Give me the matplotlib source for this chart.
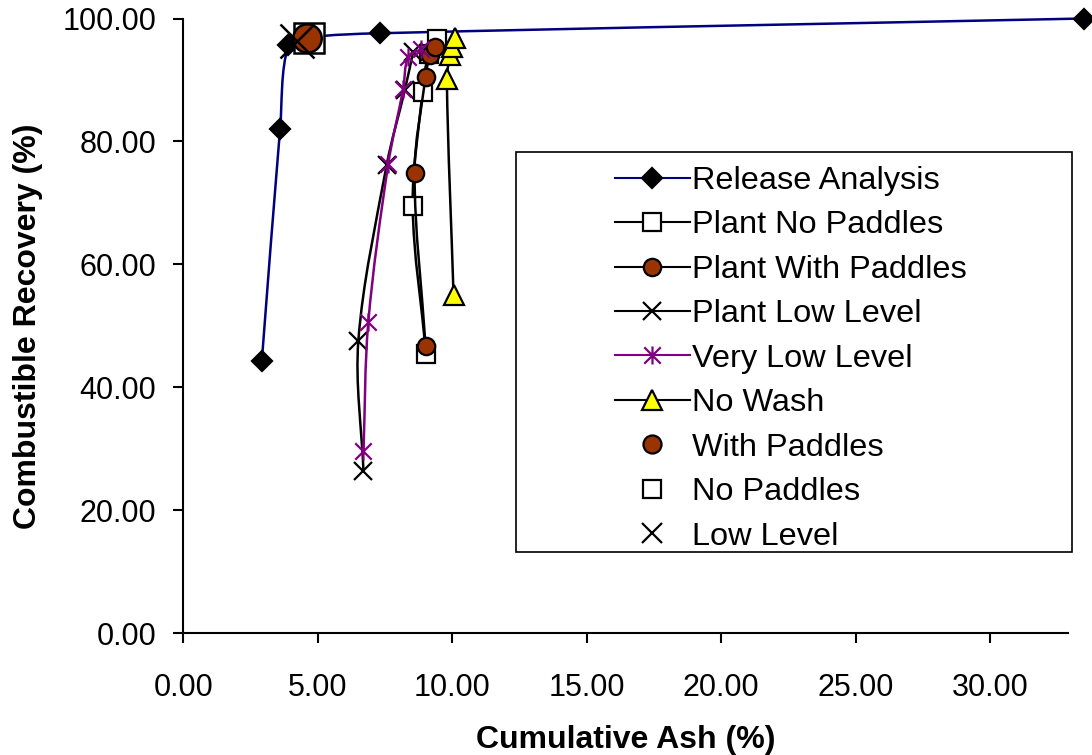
import numpy as np
import matplotlib
matplotlib.use('Agg')
import matplotlib.pyplot as plt
from matplotlib.path import Path
from matplotlib.patches import PathPatch, Rectangle
from matplotlib.lines import Line2D
from matplotlib.ticker import FormatStrFormatter

plt.rcParams['font.family'] = ['Liberation Sans', 'DejaVu Sans']

# data (cumulative ash %, combustible recovery %)
release_x = [2.92, 3.60, 3.91, 4.62, 7.31, 33.5]
release_y = [44.3, 82.1, 95.7, 96.9, 97.6, 100.0]

no_pad_x = [9.03, 8.53, 8.90, 9.12, 9.45]
no_pad_y = [45.4, 69.5, 88.1, 94.3, 96.6]

with_pad_x = [9.01, 8.60, 9.01, 9.17, 9.36]
with_pad_y = [46.7, 74.8, 90.5, 94.1, 95.4]

low_x = [6.70, 6.51, 7.56, 8.24, 8.55]
low_y = [26.4, 47.6, 76.1, 88.4, 94.6]

very_low_x = [6.70, 6.88, 7.62, 8.18, 8.37, 8.85]
very_low_y = [29.6, 50.6, 76.3, 88.6, 93.8, 95.0]

no_wash_x = [10.05, 9.80, 9.92, 10.01, 10.10]
no_wash_y = [55.0, 90.1, 94.1, 95.4, 96.8]

# single release points
single_labels = ['With Paddles', 'No Paddles', 'Low Level']
single_x = [4.61, 4.68, 4.24]
single_y = [96.8, 96.9, 96.4]

fig = plt.figure(figsize=(10.92, 7.55), dpi=100)
ax = fig.add_axes([183.3 / 1092, 1 - 633.3 / 755, (1068 - 183.3) / 1092, (633.3 - 18.5) / 755])
ax.set_xlim(0, 32.9)
ax.set_ylim(0, 100)

# asterisk marker like excel's star
star = Path([(-0.5, -0.5), (0.5, 0.5), (-0.5, 0.5), (0.5, -0.5), (0, -0.55), (0, 0.55)],
            [Path.MOVETO, Path.LINETO, Path.MOVETO, Path.LINETO, Path.MOVETO, Path.LINETO])


def smooth_path(xs, ys):
    # smoothed line through the points, bezier handles along neighbour direction
    pts = ax.transData.transform(np.column_stack([xs, ys]))
    n = len(pts)
    verts = [pts[0]]
    codes = [Path.MOVETO]
    for i in range(n - 1):
        p1, p2 = pts[i], pts[i + 1]
        a = p2 - pts[max(i - 1, 0)]
        b = pts[min(i + 2, n - 1)] - p1
        L = np.hypot(*(p2 - p1)) / 3
        verts += [p1 + a / np.hypot(*a) * L, p2 - b / np.hypot(*b) * L, p2]
        codes += [Path.CURVE4] * 3
    return Path(ax.transData.inverted().transform(verts), codes)


series = [
    ('Release Analysis', release_x, release_y, '#000080', 'D', 10.5, 'black', 'black'),
    ('Plant No Paddles', no_pad_x, no_pad_y, 'black', 's', 12.5, 'white', 'black'),
    ('Plant With Paddles', with_pad_x, with_pad_y, 'black', 'o', 12.5, '#993300', 'black'),
    ('Plant Low Level', low_x, low_y, 'black', 'x', 13, 'none', 'black'),
    ('Very Low Level', very_low_x, very_low_y, '#800080', star, 13, 'none', '#800080'),
    ('No Wash', no_wash_x, no_wash_y, 'black', '^', 14, '#FFFF00', 'black'),
]

handles = []
z = 3
for name, xs, ys, lc, mk, ms, fc, ec in series:
    ax.add_patch(PathPatch(smooth_path(xs, ys), fill=False, edgecolor=lc, lw=1.8,
                           zorder=z, clip_on=False))
    ax.plot(xs, ys, ls='none', marker=mk, ms=ms, mfc=fc, mec=ec, mew=1.6,
            zorder=z + 0.5, clip_on=False)
    handles.append(Line2D([], [], color=lc, lw=1.5, marker=mk, ms=ms, mfc=fc, mec=ec, mew=1.6))
    z += 1

# big single markers
ax.plot(single_x[1], single_y[1], ls='none', marker='s', ms=22, mfc='white', mec='black', mew=1.8, zorder=z)
ax.plot(single_x[0], single_y[0], ls='none', marker='o', ms=20.5, mfc='#993300', mec='black', mew=1.8, zorder=z + 1)
ax.plot(single_x[2], single_y[2], ls='none', marker='x', ms=25, mec='black', mew=1.8, zorder=z + 2)
handles.append(Line2D([], [], ls='none', marker='o', ms=13, mfc='#993300', mec='black', mew=1.6))
handles.append(Line2D([], [], ls='none', marker='s', ms=13, mfc='white', mec='black', mew=1.6))
handles.append(Line2D([], [], ls='none', marker='x', ms=14, mec='black', mew=1.6))
labels = [s[0] for s in series] + single_labels

ax.spines['top'].set_visible(False)
ax.spines['right'].set_visible(False)
ax.spines['left'].set_linewidth(1.5)
ax.spines['bottom'].set_linewidth(1.5)
ax.set_xticks(np.arange(0, 31, 5))
ax.set_yticks(np.arange(0, 101, 20))
ax.xaxis.set_major_formatter(FormatStrFormatter('%.2f'))
ax.yaxis.set_major_formatter(FormatStrFormatter('%.2f'))
ax.tick_params(axis='both', direction='out', length=7.5, width=1.5, labelsize=22)
ax.tick_params(axis='x', pad=21)
ax.tick_params(axis='y', pad=12)
ax.set_xlabel('Cumulative Ash (%)', fontsize=23, fontweight='bold', labelpad=16)
ax.set_ylabel('Combustible Recovery (%)', fontsize=23, fontweight='bold', labelpad=14)

# legend frame like excel
fig.patches.append(Rectangle((516 / 1092, 1 - 552 / 755), 556 / 1092, 400 / 755,
                             transform=fig.transFigure, fill=False, ec='black', lw=1.2))
fig.legend(handles, labels, loc='upper left', bbox_to_anchor=(615 / 1092, 1 - 166 / 755),
           bbox_transform=fig.transFigure, frameon=False, fontsize=23.4, borderpad=0,
           borderaxespad=0, handlelength=2.3, handletextpad=0.08, labelspacing=0.445)

fig.savefig('out.png', dpi=100)
